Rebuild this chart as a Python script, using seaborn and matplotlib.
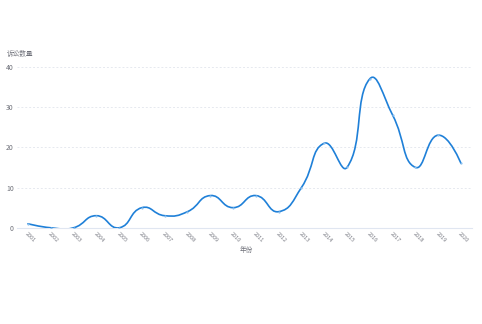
import numpy as np
import pandas as pd
import matplotlib
matplotlib.use("Agg")
import matplotlib.pyplot as plt
from matplotlib.path import Path
from matplotlib.patches import PathPatch
import seaborn as sns

years = ["2001", "2002", "2003", "2004", "2005", "2006", "2007", "2008", "2009", "2010",
         "2011", "2012", "2013", "2014", "2015", "2016", "2017", "2018", "2019", "2020"]
counts = [1, 0, 0, 3, 0, 5, 3, 4, 8, 5, 8, 4, 10, 21, 15, 37, 28, 15, 23, 16]
y_ticks = [0, 10, 20, 30, 40]
y_title = "诉讼数量"
x_title = "年份"

sns.set_theme(style="white")
plt.rcParams['font.family'] = ['Noto Sans CJK SC', 'DejaVu Sans']

LINE = "#1f80d8"
TXT = "#6e7079"
GRID = "#e6e9ef"

fig = plt.figure(figsize=(4.82, 3.24), dpi=100)
ax = fig.add_axes([0.0344, 0.297, 0.9456, 0.497])

df = pd.DataFrame({"year": years, "count": counts})
xs = np.arange(len(df))
ys = df["count"].to_numpy(dtype=float)

sns.scatterplot(data=df, x="year", y="count", ax=ax, s=2.5, color="#8cc0ee",
                linewidth=0, zorder=4)

# ECharts-like smooth bezier through the points (rendering only)
sx, sy = 22.79, 4.025
P = np.column_stack([xs * sx, ys * sy])
n = len(P)
cps_in, cps_out = [None] * n, [None] * n
smooth = 0.5
for i in range(n):
    if i == 0 or i == n - 1:
        cps_in[i] = P[i]
        cps_out[i] = P[i]
        continue
    prev, cur, nxt = P[i - 1], P[i], P[i + 1]
    d = (nxt - prev) * smooth
    l1 = np.linalg.norm(cur - prev)
    l2 = np.linalg.norm(nxt - cur)
    tot = l1 + l2
    cps_in[i] = cur - d * l1 / tot
    cps_out[i] = cur + d * l2 / tot
verts = [P[0]]
codes = [Path.MOVETO]
for i in range(n - 1):
    verts += [cps_out[i], cps_in[i + 1], P[i + 1]]
    codes += [Path.CURVE4] * 3
verts = np.array(verts) / np.array([sx, sy])
ax.add_patch(PathPatch(Path(verts, codes), facecolor="none", edgecolor=LINE,
                       linewidth=1.2, zorder=3, capstyle="round", joinstyle="round"))

ax.set_xlim(-0.5, len(years) - 0.5)
ax.set_ylim(0, 40)
ax.set_yticks(y_ticks)
ax.set_yticklabels([str(v) for v in y_ticks], fontsize=5, color=TXT)
ax.set_xticks(xs)
ax.set_xticklabels(years, fontsize=4, color="#7a7c85", rotation=-45,
                   ha="left", va="top", rotation_mode="anchor")
ax.tick_params(axis="both", length=0, pad=2)
ax.tick_params(axis="x", pad=2.5)
for s in ["top", "right", "left"]:
    ax.spines[s].set_visible(False)
ax.spines["bottom"].set_color("#e0e6f1")
ax.spines["bottom"].set_linewidth(0.8)
for v in y_ticks[1:]:
    ax.axhline(v, color=GRID, linewidth=0.7, linestyle=(0, (2, 2)), zorder=1)
ax.set_xlabel("")
ax.set_ylabel("")
fig.text(0.014, 0.822, y_title, fontsize=4.8, color=TXT, ha="left", va="bottom")
fig.text(0.51, 0.228, x_title, fontsize=4.8, color=TXT, ha="center", va="center")

fig.savefig("out.png", dpi=100)
